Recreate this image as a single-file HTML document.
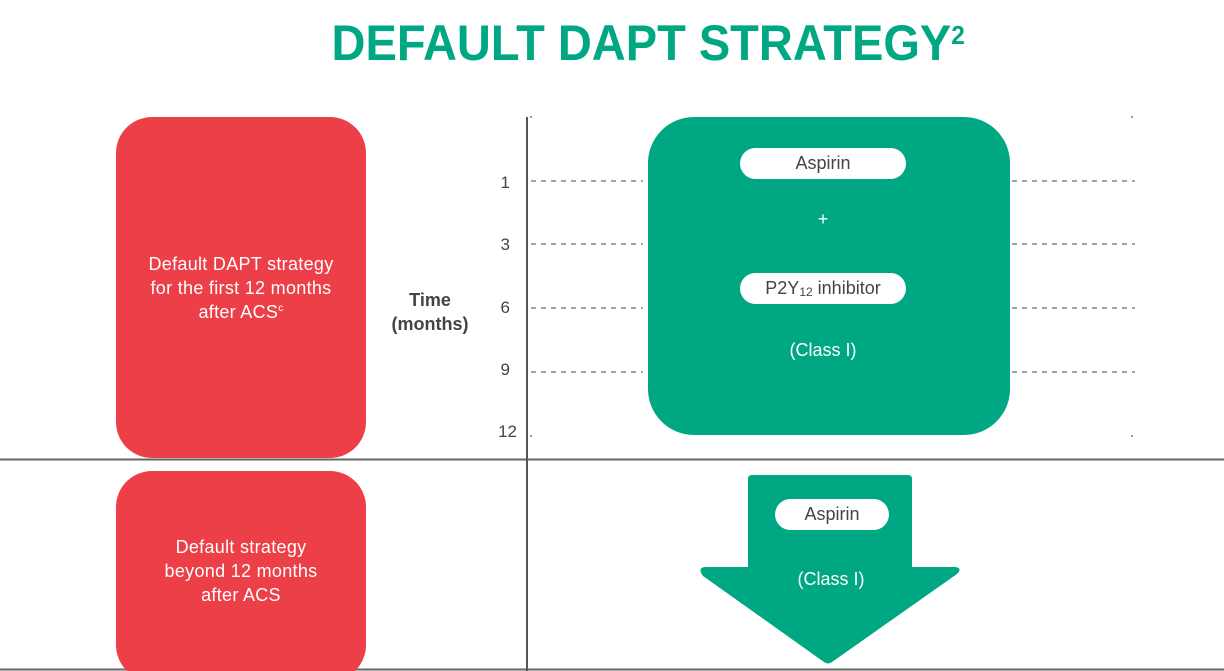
<!DOCTYPE html>
<html><head><style>
html,body{margin:0;width:1224px;height:671px;overflow:hidden}
body{background:#fff;position:relative;font-family:"Liberation Sans",Arial,sans-serif}
.a{position:absolute}
.red{background:#ec3f48;border-radius:36px;color:#fff;font-size:18px;letter-spacing:0.3px;line-height:24px;text-align:center;display:flex;align-items:center;justify-content:center}
.pill{background:#fff;border-radius:16px;color:#444;font-size:18px;text-align:center;display:flex;align-items:center;justify-content:center}
.n{font-size:17px;color:#444;width:30px;text-align:right}
.w{color:#fff;font-size:18px;text-align:center}
</style></head><body>
<div class="a" style="left:34px;top:14px;width:1224px;text-align:center;font-size:50px;font-weight:bold;color:#00a783;transform:scaleX(0.94);transform-origin:649px 0;">DEFAULT DAPT STRATEGY<sup style="font-size:26px;vertical-align:top;position:relative;top:6px">2</sup></div>
<svg class="a" style="left:0;top:0" width="1224" height="671">
<g stroke="#444" stroke-dasharray="5,5" stroke-width="1">
<line x1="531" y1="181" x2="643" y2="181"/><line x1="1012" y1="181" x2="1135" y2="181"/>
<line x1="531" y1="244" x2="643" y2="244"/><line x1="1012" y1="244" x2="1135" y2="244"/>
<line x1="531" y1="308" x2="643" y2="308"/><line x1="1012" y1="308" x2="1135" y2="308"/>
<line x1="531" y1="372" x2="643" y2="372"/><line x1="1012" y1="372" x2="1135" y2="372"/>
</g>
<g fill="#999"><rect x="530" y="116" width="2" height="2"/><rect x="1131" y="116" width="2" height="2"/><rect x="530" y="435" width="2" height="2"/><rect x="1131" y="435" width="2" height="2"/></g>
<line x1="0" y1="459.5" x2="1224" y2="459.5" stroke="#666" stroke-width="2"/>
<line x1="0" y1="669.5" x2="1224" y2="669.5" stroke="#666" stroke-width="2"/>
<line x1="527" y1="117" x2="527" y2="671" stroke="#555" stroke-width="2"/>
<rect x="648" y="117" width="362" height="318" rx="46" fill="#00a783"/>
<path d="M752 475 H908 Q912 475 912 479 V567 H955 Q963 568 957 574 L832 662 Q828 665 824 662 L703 576 Q697 568 705 567 H748 V479 Q748 475 752 475Z" fill="#00a783"/>
</svg>
<div class="a red" style="left:116px;top:117px;width:250px;height:341px"><div>Default DAPT strategy<br>for the first 12 months<br>after ACS<sup style="font-size:10px;line-height:0">c</sup></div></div>
<div class="a red" style="left:116px;top:471px;width:250px;height:210px;align-items:flex-start"><div style="margin-top:64px">Default strategy<br>beyond 12 months<br>after ACS</div></div>
<div class="a" style="left:380px;top:288px;width:100px;text-align:center;font-weight:bold;font-size:18px;color:#444;line-height:24px">Time<br>(months)</div>
<div class="a n" style="left:480px;top:173px">1</div>
<div class="a n" style="left:480px;top:235px">3</div>
<div class="a n" style="left:480px;top:298px">6</div>
<div class="a n" style="left:480px;top:360px">9</div>
<div class="a n" style="left:487px;top:422px">12</div>
<div class="a pill" style="left:740px;top:148px;width:166px;height:31px">Aspirin</div>
<div class="a w" style="left:740px;top:209px;width:166px">+</div>
<div class="a pill" style="left:740px;top:273px;width:166px;height:31px"><span>P2Y<span style="font-size:12px;position:relative;top:2px">12</span>&nbsp;inhibitor</span></div>
<div class="a w" style="left:740px;top:340px;width:166px">(Class I)</div>
<div class="a pill" style="left:775px;top:499px;width:114px;height:31px">Aspirin</div>
<div class="a w" style="left:748px;top:569px;width:166px">(Class I)</div>
</body></html>
